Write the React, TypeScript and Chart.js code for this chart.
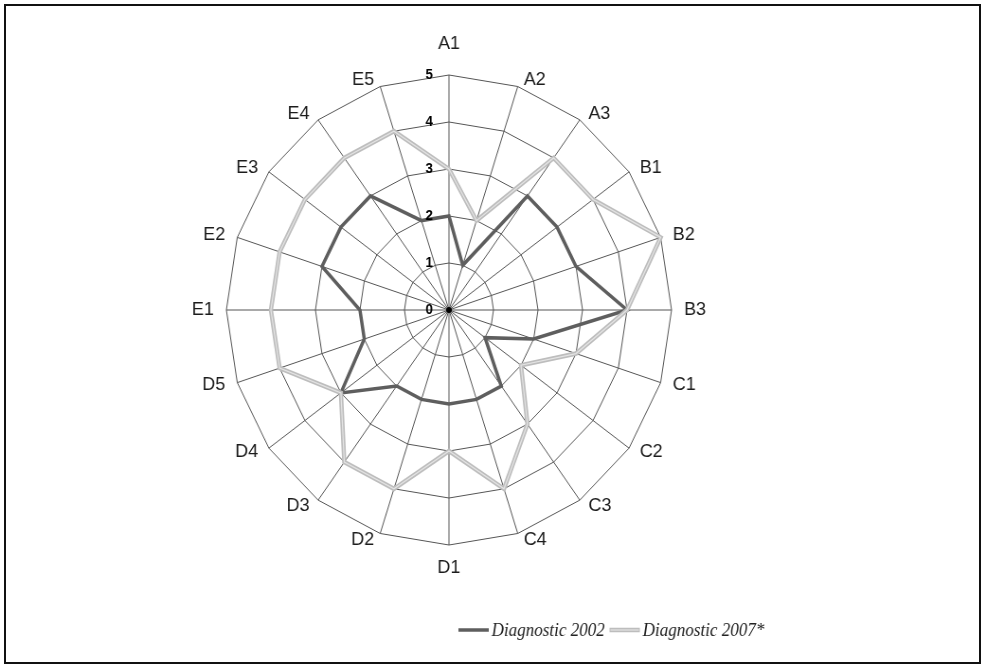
import React, { useEffect, useRef } from 'react';
import { Chart, registerables } from 'chart.js';

Chart.register(...registerables);

const categories = ['A1', 'A2', 'A3', 'B1', 'B2', 'B3', 'C1', 'C2', 'C3', 'C4', 'D1', 'D2', 'D3', 'D4', 'D5', 'E1', 'E2', 'E3', 'E4', 'E5'];
const diagnostic2002 = [2, 1, 3, 3, 3, 4, 2, 1, 2, 2, 2, 2, 2, 3, 2, 2, 3, 3, 3, 2];
const diagnostic2007 = [3, 2, 4, 4, 5, 4, 3, 2, 3, 4, 3, 4, 4, 3, 4, 4, 4, 4, 4, 4];
const tickLabels = ['0', '1', '2', '3', '4', '5'];
const seriesNames = ['Diagnostic 2002', 'Diagnostic 2007*'];

const color2002 = '#5e5e5e';
const color2007 = '#bdbdbd';
const color2007Core = '#e4e4e4';
const gridColor = '#555555';

const PAGE_W = 986;
const PAGE_H = 668;
const X_SCALE = 0.947;
const CANVAS_W = Math.round(PAGE_W / X_SCALE);

const labelFont = '19px "Liberation Sans", Arial, sans-serif';
const tickFont = 'bold 14px "Liberation Sans", Arial, sans-serif';
const legendFont = 'italic 18px "Liberation Serif", "Times New Roman", serif';

const overlayPlugin = {
  id: 'overlay',
  afterDraw(chart: any) {
    const scale = chart.scales.r;
    const ctx = chart.ctx as CanvasRenderingContext2D;
    const R = scale.drawingArea;
    ctx.save();

    // center dot
    ctx.fillStyle = '#000';
    ctx.beginPath();
    ctx.arc(scale.xCenter, scale.yCenter, 3, 0, Math.PI * 2);
    ctx.fill();

    // tick labels along the first axis
    ctx.font = tickFont;
    ctx.fillStyle = '#000';
    ctx.textAlign = 'right';
    ctx.textBaseline = 'middle';
    tickLabels.forEach((t) => {
      const y = scale.yCenter - scale.getDistanceFromCenterForValue(Number(t));
      ctx.fillText(t, scale.xCenter - 17, y);
    });

    // point labels, placed next to the outer vertex of each axis
    ctx.font = labelFont;
    ctx.fillStyle = '#1c1c1c';
    ctx.textBaseline = 'middle';
    categories.forEach((c, i) => {
      const ang = scale.getIndexAngle(i);
      const s = Math.sin(ang);
      const co = Math.cos(ang);
      const v = scale.getPointPosition(i, R);
      let x = v.x;
      let y = v.y;
      let align: CanvasTextAlign = 'center';
      if (Math.abs(s) < 1e-6) {
        y = co > 0 ? v.y - 31 : v.y + 23;
      } else {
        const gap = (3 + 9.5 * Math.abs(s)) / X_SCALE;
        align = s > 0 ? 'left' : 'right';
        x = v.x + (s > 0 ? gap : -gap);
        y = v.y - 7 * co;
      }
      ctx.textAlign = align;
      ctx.fillText(c, x, y);
    });

    // legend
    const ds = chart.data.datasets;
    ctx.font = legendFont;
    ctx.fillStyle = '#222';
    ctx.textAlign = 'left';
    ctx.textBaseline = 'middle';
    const ly = 630;
    let x = 484;
    const sample = 32;
    ctx.lineCap = 'butt';
    ctx.strokeStyle = ds[0].borderColor;
    ctx.lineWidth = 3.5;
    ctx.beginPath();
    ctx.moveTo(x, ly);
    ctx.lineTo(x + sample, ly);
    ctx.stroke();
    x += sample + 3;
    ctx.fillText(ds[0].label, x, ly + 1);
    x += ctx.measureText(ds[0].label).width + 5;
    ctx.strokeStyle = ds[1].borderColor;
    ctx.lineWidth = 4.5;
    ctx.beginPath();
    ctx.moveTo(x, ly);
    ctx.lineTo(x + sample, ly);
    ctx.stroke();
    ctx.strokeStyle = ds[2].borderColor;
    ctx.lineWidth = 1.2;
    ctx.beginPath();
    ctx.moveTo(x + 1, ly);
    ctx.lineTo(x + sample - 1, ly);
    ctx.stroke();
    x += sample + 3;
    ctx.fillText(ds[1].label, x, ly + 1);

    ctx.restore();
  },
};

export default function App() {
  const ref = useRef<HTMLCanvasElement>(null);

  useEffect(() => {
    const canvas = ref.current;
    if (!canvas) return;
    const cx = 474;
    const cy = 310;
    const R = 235;
    const chart = new Chart(canvas, {
      type: 'radar',
      data: {
        labels: categories,
        datasets: [
          {
            label: seriesNames[0],
            data: diagnostic2002,
            borderColor: color2002,
            backgroundColor: 'transparent',
            borderWidth: 3.5,
            fill: false,
            pointRadius: 0,
            order: 3,
          },
          {
            label: seriesNames[1],
            data: diagnostic2007,
            borderColor: color2007,
            backgroundColor: 'transparent',
            borderWidth: 4.5,
            fill: false,
            pointRadius: 0,
            order: 2,
          },
          {
            label: seriesNames[1],
            data: diagnostic2007,
            borderColor: color2007Core,
            backgroundColor: 'transparent',
            borderWidth: 1.2,
            fill: false,
            pointRadius: 0,
            order: 1,
          },
        ],
      },
      options: {
        responsive: false,
        animation: false,
        devicePixelRatio: 1,
        layout: {
          padding: { left: cx - R, right: CANVAS_W - (cx + R), top: cy - R, bottom: PAGE_H - (cy + R) },
        },
        plugins: { legend: { display: false }, tooltip: { enabled: false } },
        elements: { line: { tension: 0, borderJoinStyle: 'miter' } },
        scales: {
          r: {
            min: 0,
            max: 5,
            ticks: { display: false, stepSize: 1 },
            pointLabels: { display: false },
            grid: { circular: false, color: gridColor, lineWidth: 1 },
            angleLines: { color: gridColor, lineWidth: 1 },
          },
        },
      },
      plugins: [overlayPlugin],
    } as any);
    return () => chart.destroy();
  }, []);

  return (
    <div style={{ position: 'absolute', left: 0, top: 0, width: PAGE_W, height: PAGE_H, background: '#fff', overflow: 'hidden' }}>
      <canvas
        ref={ref}
        width={CANVAS_W}
        height={PAGE_H}
        style={{ position: 'absolute', left: 0, top: 0, width: PAGE_W, height: PAGE_H }}
      />
      <div
        style={{
          position: 'absolute',
          left: 4,
          top: 4,
          width: 977,
          height: 660,
          border: '2px solid #111',
          boxSizing: 'border-box',
          pointerEvents: 'none',
        }}
      />
    </div>
  );
}
